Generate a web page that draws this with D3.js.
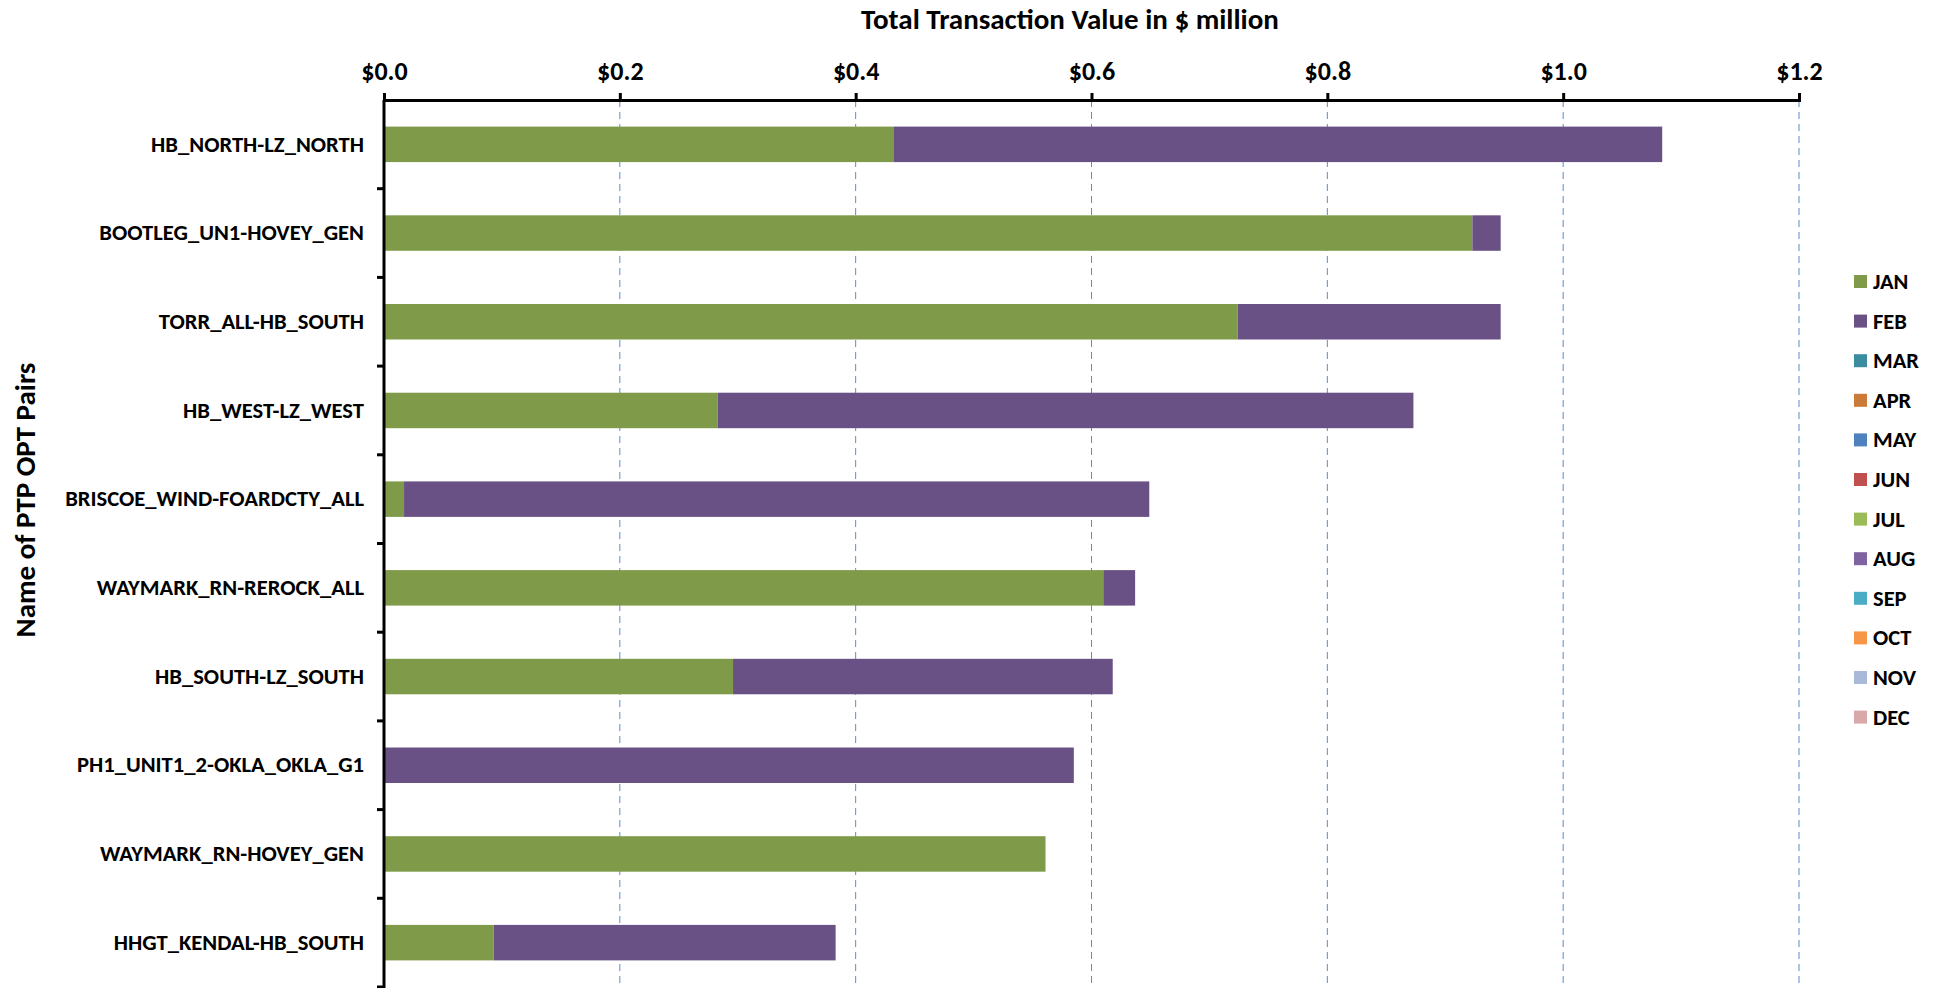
<!DOCTYPE html>
<html>
<head>
<meta charset="utf-8">
<script src="https://cdn.jsdelivr.net/npm/d3@7"></script>
<style>
  body { margin: 0; background: #fff; }
  svg text { font-family: Carlito, Lato, "Open Sans", sans-serif; font-weight: bold; fill: #000; }
</style>
</head>
<body>
<div id="chart"></div>
<script>
// data ($ million)
var pairs = ['HB_NORTH-LZ_NORTH', 'BOOTLEG_UN1-HOVEY_GEN', 'TORR_ALL-HB_SOUTH', 'HB_WEST-LZ_WEST',
             'BRISCOE_WIND-FOARDCTY_ALL', 'WAYMARK_RN-REROCK_ALL', 'HB_SOUTH-LZ_SOUTH',
             'PH1_UNIT1_2-OKLA_OKLA_G1', 'WAYMARK_RN-HOVEY_GEN', 'HHGT_KENDAL-HB_SOUTH'];
var jan_values = [0.432, 0.923, 0.724, 0.283, 0.017, 0.610, 0.296, 0.000, 0.561, 0.093];
var feb_values = [0.652, 0.024, 0.223, 0.590, 0.632, 0.027, 0.322, 0.585, 0.000, 0.290];
var months = ['JAN', 'FEB', 'MAR', 'APR', 'MAY', 'JUN', 'JUL', 'AUG', 'SEP', 'OCT', 'NOV', 'DEC'];
var month_colors = ['#7f9a48', '#695185', '#3b8ba1', '#cc7a37', '#4f81bd', '#c0504d',
                    '#9bbb59', '#8064a2', '#4bacc6', '#f79646', '#a9b9d8', '#d9a9a9'];
var x_ticks = [0, 0.2, 0.4, 0.6, 0.8, 1.0, 1.2];

// build rows for the stack (months without data are zero)
var data = pairs.map(function(p, i) {
    var row = {pair: p};
    months.forEach(function(m) { row[m] = 0; });
    row['JAN'] = jan_values[i];
    row['FEB'] = feb_values[i];
    return row;
});

var width  = 1937;
var height = 988;
var plot_left   = 384;
var plot_right  = 1799;
var plot_top    = 100;
var plot_bottom = 987;

var svg = d3.select('#chart')
    .append('svg')
    .attr('width', width)
    .attr('height', height);

var x_scale = d3.scaleLinear()
    .domain([0, 1.2])
    .range([plot_left, plot_right]);

var y_scale = d3.scaleBand()
    .domain(pairs)
    .range([plot_top, plot_bottom])
    .paddingInner(0.6)
    .paddingOuter(0.3);

// dashed gridlines
svg.append('g')
    .selectAll('line')
    .data(x_ticks.slice(1))
    .enter()
    .append('line')
    .attr('x1', function(d) { return x_scale(d); })
    .attr('x2', function(d) { return x_scale(d); })
    .attr('y1', plot_top)
    .attr('y2', plot_bottom)
    .attr('stroke', '#5b8ccc')
    .attr('stroke-width', 1)
    .attr('stroke-dasharray', '7,5');

// stacked bars
var stack_data = d3.stack().keys(months)(data);

svg.append('g')
    .selectAll('g')
    .data(stack_data)
    .enter()
    .append('g')
    .attr('fill', function(d, i) { return month_colors[i]; })
    .selectAll('rect')
    .data(function(d) { return d.filter(function(s) { return s[1] - s[0] > 0; }); })
    .enter()
    .append('rect')
    .attr('x', function(d) { return x_scale(d[0]); })
    .attr('y', function(d) { return y_scale(d.data.pair); })
    .attr('width', function(d) { return x_scale(d[1]) - x_scale(d[0]); })
    .attr('height', y_scale.bandwidth());

// top axis
var x_axis = d3.axisTop(x_scale)
    .tickValues(x_ticks)
    .tickSize(7)
    .tickPadding(13)
    .tickFormat(function(d) { return '$' + d3.format('.1f')(d); });

var xg = svg.append('g')
    .attr('transform', 'translate(0,' + plot_top + ')')
    .call(x_axis);
xg.select('.domain').attr('stroke', '#000').attr('stroke-width', 3);
xg.selectAll('.tick line').attr('stroke', '#000').attr('stroke-width', 3);
xg.selectAll('.tick text').attr('font-size', '26px').attr('font-family', null);

// left axis with ticks between categories
var yg = svg.append('g')
    .attr('transform', 'translate(' + plot_left + ',0)')
    .call(d3.axisLeft(y_scale).tickSize(0).tickPadding(20));
yg.select('.domain').remove();
yg.append('line')
    .attr('x1', 0).attr('x2', 0)
    .attr('y1', plot_top).attr('y2', height)
    .attr('stroke', '#000').attr('stroke-width', 3);
yg.selectAll('.tick text').attr('font-size', '22.6px').attr('font-family', null);

var boundaries = pairs.map(function(p) { return y_scale(p) - y_scale.step() * y_scale.paddingInner() / 2; }).slice(1);
boundaries.push(plot_bottom);
yg.selectAll('.cat-tick')
    .data(boundaries)
    .enter()
    .append('line')
    .attr('x1', -7).attr('x2', 0)
    .attr('y1', function(d) { return d; })
    .attr('y2', function(d) { return d; })
    .attr('stroke', '#000')
    .attr('stroke-width', 3);

// axis titles
svg.append('text')
    .attr('x', 1070)
    .attr('y', 29)
    .attr('text-anchor', 'middle')
    .attr('font-size', '29px')
    .text('Total Transaction Value in $ million');

svg.append('text')
    .attr('transform', 'translate(35,500) rotate(-90)')
    .attr('text-anchor', 'middle')
    .attr('font-size', '29px')
    .text('Name of PTP OPT Pairs');

// legend
var legend = svg.append('g')
    .attr('transform', 'translate(1854,275)');

var items = legend.selectAll('g')
    .data(months)
    .enter()
    .append('g')
    .attr('transform', function(d, i) { return 'translate(0,' + (i * 39.6) + ')'; });

items.append('rect')
    .attr('width', 13)
    .attr('height', 13)
    .attr('fill', function(d, i) { return month_colors[i]; });

items.append('text')
    .attr('x', 19)
    .attr('y', 14)
    .attr('font-size', '22.5px')
    .text(function(d) { return d; });
</script>
</body>
</html>
